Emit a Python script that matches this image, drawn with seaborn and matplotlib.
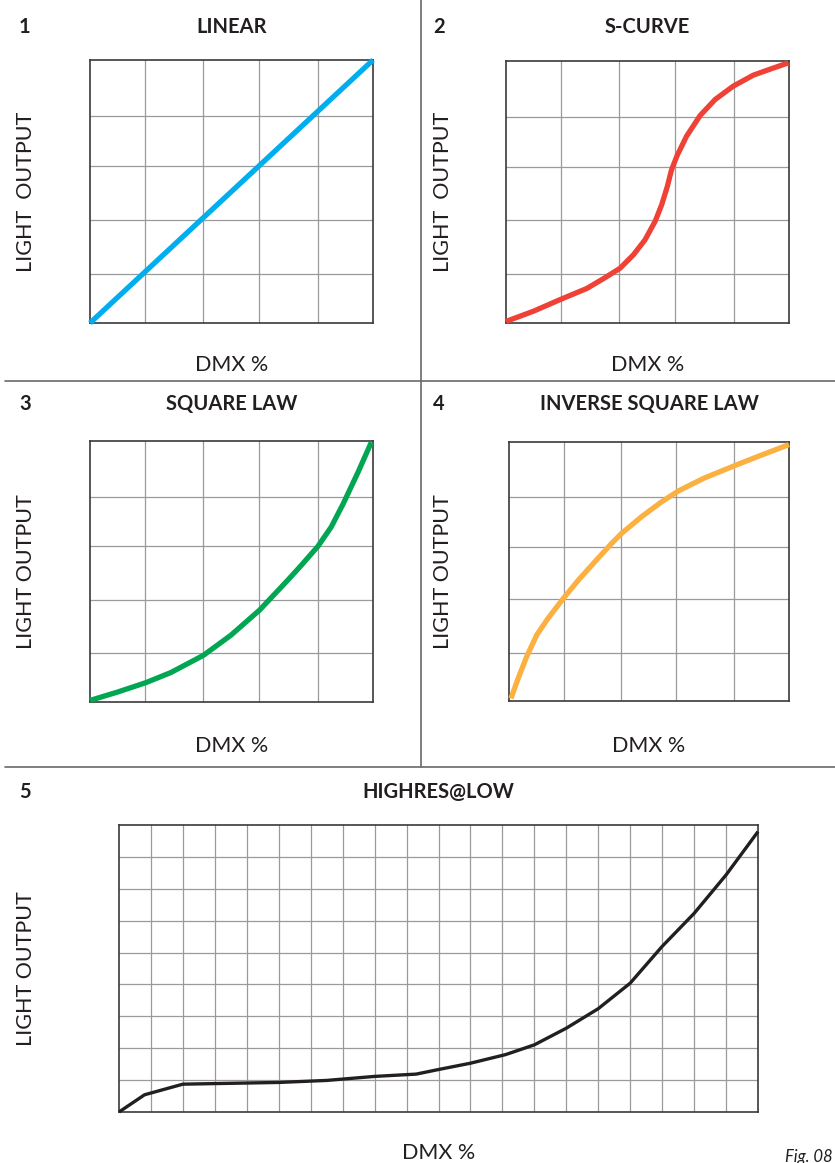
import numpy as np
import pandas as pd
import seaborn as sns
import matplotlib.pyplot as plt
from matplotlib.lines import Line2D

# Kuvan mitat pikseleina
W, H = 835, 1163

# Käyrien datat: DMX % (x) ja valon ulostulo % (y)
linear_x = [0, 100]
linear_y = [0, 100]

scurve_x = [0, 9.7, 19.7, 28.6, 35.0, 40.3, 45.0, 49.1, 52.7, 55.0, 57.0, 58.5,
            60.5, 63.8, 68.6, 73.9, 80.3, 87.4, 93.9, 99.8]
scurve_y = [0.6, 4.5, 9.2, 13.2, 17.3, 20.9, 26.0, 31.7, 38.8, 45.1, 52.1, 58.5,
            64.0, 71.3, 79.2, 85.3, 90.4, 94.6, 97.1, 99.3]

square_x = [0, 9.7, 19.7, 28.6, 40.1, 49.8, 59.9, 69.9, 74.6, 80.5, 85.2, 89.4, 92.0, 94.7, 99.4]
square_y = [0.6, 3.8, 7.4, 11.3, 17.9, 25.6, 35.2, 46.7, 52.3, 59.6, 67.0, 75.8, 81.8, 88.0, 99.5]

inverse_x = [0.7, 3.3, 6.3, 9.9, 14.0, 19.4, 24.8, 30.7, 36.7, 40.2, 47.4, 54.5,
             60.5, 66.4, 70.0, 80.9, 89.8, 100]
inverse_y = [1.0, 8.8, 17.1, 25.5, 32.0, 39.6, 46.7, 53.8, 60.9, 64.7, 71.2, 76.9,
             81.1, 84.3, 86.2, 91.0, 94.8, 99.0]

highres_x = [0, 4, 10, 15, 25, 32.5, 40, 46.5, 50, 55, 60.5, 65, 70, 75, 80, 85, 90, 95, 100]
highres_y = [0, 6.0, 9.7, 9.9, 10.3, 11.0, 12.4, 13.2, 14.8, 17.0, 20.0, 23.4, 29.2,
             36.0, 44.9, 57.7, 69.2, 82.6, 97.7]

# Ruudukon viivat pienissä kaavioissa (hieman epätasainen alkuperäisessä)
small_grid_x = [19.5, 40.0, 59.8, 80.4]
small_grid_y = [18.6, 39.2, 59.6, 78.7]

panels = [
    # numero, otsikko, x, y, väri, paksuus, y-otsikko, laatikko (vasen, oikea, ylä, ala)
    ("1", "LINEAR", linear_x, linear_y, "#00AEEF", 3.8, "LIGHT  OUTPUT", (90, 373, 60, 323)),
    ("2", "S-CURVE", scurve_x, scurve_y, "#EF4136", 3.8, "LIGHT  OUTPUT", (506, 789, 61, 323)),
    ("3", "SQUARE LAW", square_x, square_y, "#00A651", 3.8, "LIGHT OUTPUT", (90, 373, 441, 702)),
    ("4", "INVERSE SQUARE LAW", inverse_x, inverse_y, "#FBB040", 3.8, "LIGHT OUTPUT", (509, 789, 442, 701)),
    ("5", "HIGHRES@LOW", highres_x, highres_y, "#231F20", 2.4, "LIGHT OUTPUT", (119, 758, 825, 1112)),
]

sns.set_style("white")
plt.rcParams["font.family"] = ["Lato", "DejaVu Sans"]

fig = plt.figure(figsize=(W / 100, H / 100), dpi=100)


def fx(px):
    return px / W


def fy(py):
    return 1 - py / H


for i, (num, title, xs, ys, color, lw, ylab, box) in enumerate(panels):
    left, right, top, bottom = box
    ax = fig.add_axes([fx(left), fy(bottom), fx(right - left), (bottom - top) / H])
    df = pd.DataFrame({"DMX": xs, "Output": ys})
    sns.lineplot(data=df, x="DMX", y="Output", ax=ax, color=color, linewidth=lw,
                 clip_on=False, zorder=5, solid_capstyle="butt", solid_joinstyle="round")
    ax.set_xlim(0, 100)
    ax.set_ylim(0, 100)
    if i < 4:
        ax.set_xticks(small_grid_x)
        ax.set_yticks(small_grid_y)
    else:
        ax.set_xticks(np.arange(5, 100, 5))
        ax.set_yticks(np.arange(1, 9) * 100 / 9)
    ax.grid(True, color="#9a9a9a", linewidth=0.9)
    ax.tick_params(length=0, labelbottom=False, labelleft=False)
    ax.set_xlabel("")
    ax.set_ylabel("")
    for s in ax.spines.values():
        s.set_color("#3a3a3a")
        s.set_linewidth(1.2)

    # Tekstit
    cx = (left + right) / 2
    cy = (top + bottom) / 2
    if i in (0, 2, 4):
        num_x, ylab_x = 19, 26
    else:
        num_x, ylab_x = 433, 443
    title_y = {0: 27, 1: 27, 2: 404, 3: 404, 4: 792}[i]
    xlab_y = {0: 365, 1: 365, 2: 746, 3: 746, 4: 1153}[i]
    fig.text(fx(num_x), fy(title_y), num, fontsize=14.5, fontweight="bold",
             color="#231F20", ha="left", va="center")
    fig.text(fx(cx), fy(title_y), title, fontsize=14.5, fontweight="bold",
             color="#231F20", ha="center", va="center")
    fig.text(fx(ylab_x), fy(cy), ylab, fontsize=15.5, fontweight="normal",
             color="#231F20", rotation=90, ha="center", va="center")
    fig.text(fx(cx), fy(xlab_y), "DMX %", fontsize=15.5, fontweight="normal",
             color="#231F20", ha="center", va="center")

fig.text(fx(833), fy(1157), "Fig. 08", fontsize=12, fontstyle="italic",
         color="#231F20", ha="right", va="center")

# Erotinviivat
sep = dict(color="#6a6a6a", linewidth=1.2, transform=fig.transFigure)
fig.add_artist(Line2D([fx(5), fx(835)], [fy(381), fy(381)], **sep))
fig.add_artist(Line2D([fx(5), fx(835)], [fy(767), fy(767)], **sep))
fig.add_artist(Line2D([fx(421), fx(421)], [fy(0), fy(767)], **sep))

fig.savefig("out.png", dpi=100)
